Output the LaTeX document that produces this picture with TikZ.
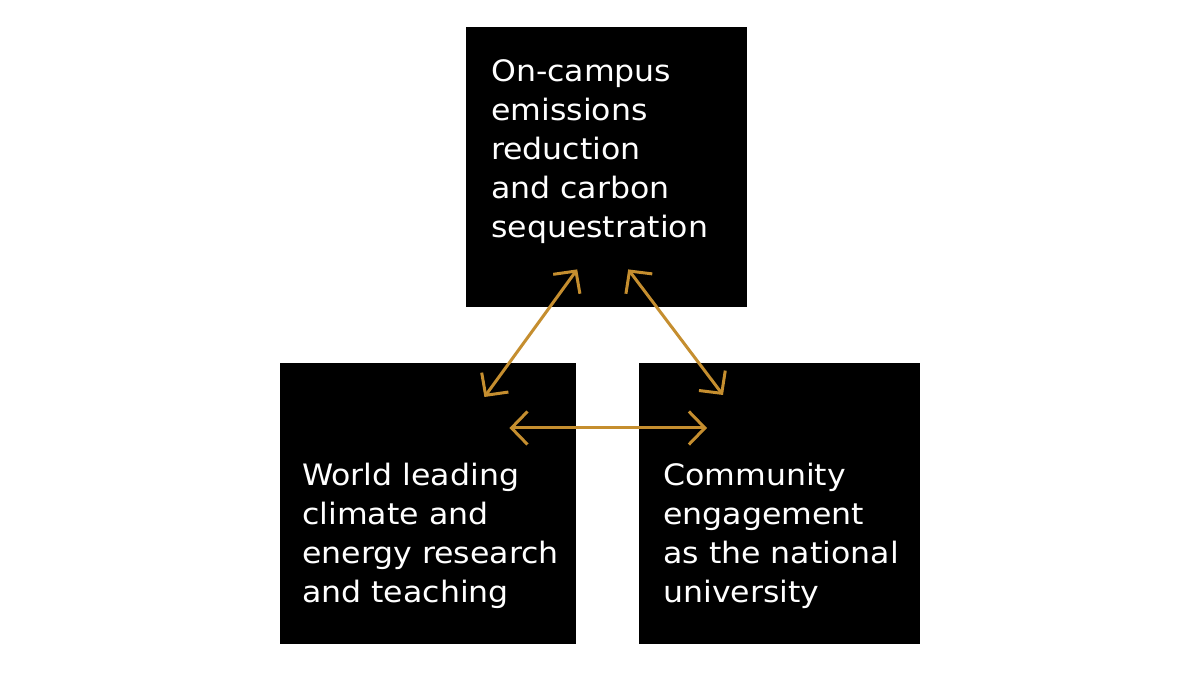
\documentclass[tikz,border=0pt]{standalone}
\usepackage{fontspec}
\setmainfont[FakeStretch=1.07]{DejaVu Sans}
\usetikzlibrary{arrows.meta}
\definecolor{gold}{RGB}{197,142,47}

\tikzset{
  block/.style={fill=black, inner sep=0pt, anchor=north west},
  blocktext/.style={text=white, align=left, inner sep=0pt, anchor=base west,
    font=\fontsize{29.5}{39}\selectfont},
  link/.style={gold, line width=3pt, {Straight Barb[length=16pt,width=33pt]}-{Straight Barb[length=16pt,width=33pt]}}
}

\begin{document}
\begin{tikzpicture}[x=1pt,y=1pt]
\useasboundingbox (0,0) rectangle (1200,676);
\node[block, minimum width=281pt, minimum height=280pt] (top) at (466,649) {};
\node[block, minimum width=296pt, minimum height=281pt] (left) at (280,313) {};
\node[block, minimum width=281pt, minimum height=281pt] (right) at (639,313) {};
\node[blocktext] (toptext) at (491,438) {On-campus\\emissions\\reduction\\and carbon\\sequestration};
\node[blocktext] (lefttext) at (302,73) {World leading\\climate and\\energy research\\and teaching};
\node[blocktext] (righttext) at (663,73) {Community\\engagement\\as the national\\university};
\coordinate (a1) at ([shift={(-29.5,38)}]top.south);
\coordinate (a2) at ([shift={(21.5,38)}]top.south);
\coordinate (b1) at ([shift={(-92,-34)}]left.north east);
\coordinate (b2) at ([shift={(-67,-65)}]left.north east);
\coordinate (c1) at ([shift={(84,-32)}]right.north west);
\coordinate (c2) at ([shift={(68,-65)}]right.north west);
\draw[link] (a1) -- (b1);
\draw[link] (a2) -- (c1);
\draw[link] (b2) -- (c2);
\end{tikzpicture}
\end{document}
